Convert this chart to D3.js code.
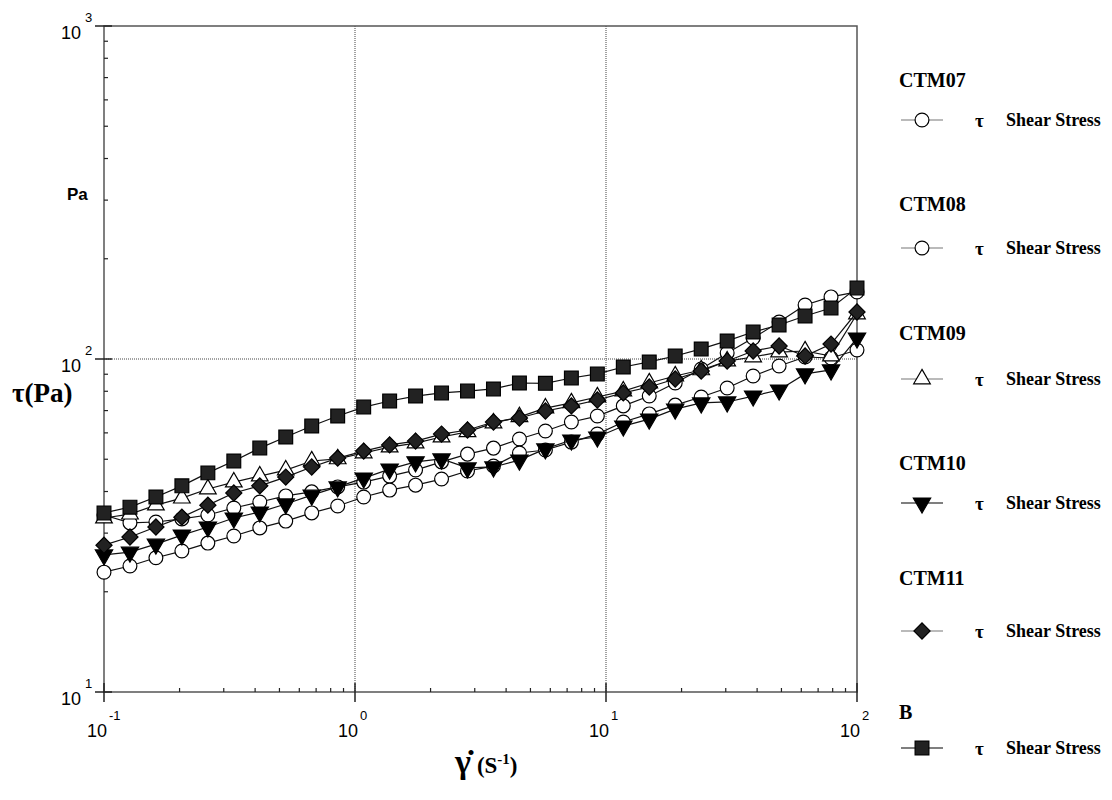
<!DOCTYPE html>
<html>
<head>
<meta charset="utf-8">
<script src="https://cdn.jsdelivr.net/npm/d3@7/dist/d3.min.js"></script>
<style>
  body { margin: 0; background: #fff; }
  svg { display: block; }
</style>
</head>
<body>
<div id="chart"></div>
<script>
// shear rate points (1/s), 30 per curve, log spaced
var shearRate = [0.100, 0.1269, 0.1610, 0.2043, 0.2593, 0.3290, 0.4175, 0.5298, 0.6723, 0.8532,
                 1.083, 1.374, 1.743, 2.212, 2.807, 3.562, 4.520, 5.736, 7.279, 9.237,
                 11.72, 14.87, 18.87, 23.95, 30.39, 38.57, 48.94, 62.11, 78.80, 100];

// shear stress (Pa) per sample
var ctm07 = [34.0, 32.2, 32.4, 33.1, 34.0, 35.7, 37.2, 38.8, 39.9, 41.3,
             42.7, 44.5, 46.4, 49.1, 51.8, 54.0, 57.5, 60.8, 64.7, 67.4,
             72.3, 77.4, 84.7, 93.3, 104.2, 115.6, 129.1, 145.3, 153.6, 159.0];
var ctm08 = [22.9, 23.9, 25.3, 26.5, 28.0, 29.4, 31.1, 32.6, 34.5, 36.2,
             38.5, 40.4, 41.8, 43.6, 46.1, 47.7, 52.2, 53.3, 56.3, 59.5,
             64.7, 68.4, 72.7, 76.9, 81.8, 88.9, 95.3, 101.4, 100.7, 106.4];
var ctm09 = [33.3, 34.2, 36.4, 38.2, 40.7, 42.7, 44.5, 46.4, 49.4, 50.1,
             52.2, 54.4, 55.9, 58.3, 60.4, 64.2, 67.0, 71.2, 73.8, 76.9,
             80.1, 84.7, 88.9, 92.7, 98.6, 101.4, 104.9, 105.7, 102.1, 136.5];
var ctm10 = [25.8, 26.3, 27.8, 29.6, 31.3, 33.3, 34.7, 36.7, 39.0, 41.3,
             43.9, 46.7, 49.1, 50.1, 47.1, 47.4, 49.7, 53.7, 57.1, 58.3,
             62.9, 66.0, 70.7, 73.8, 74.3, 77.4, 80.7, 90.2, 92.7, 115.6];
var ctm11 = [27.6, 29.2, 31.3, 33.5, 36.4, 39.6, 41.6, 44.2, 47.4, 50.4,
             52.9, 55.2, 56.7, 59.5, 61.2, 64.7, 66.5, 69.8, 72.3, 75.3,
             79.1, 82.4, 87.1, 92.0, 98.6, 105.7, 109.4, 102.1, 110.9, 138.4];
var sampleB = [34.5, 35.9, 38.5, 41.6, 45.5, 49.4, 54.0, 58.3, 62.9, 67.4,
               71.7, 74.8, 77.4, 79.1, 80.1, 81.3, 84.7, 84.5, 87.7, 90.2,
               94.6, 98.0, 102.1, 107.2, 113.3, 120.5, 126.5, 134.6, 142.3, 163.5];

var seriesNames = ["CTM07", "CTM08", "CTM09", "CTM10", "CTM11", "B"];
var seriesValues = [ctm07, ctm08, ctm09, ctm10, ctm11, sampleB];
var xTickExps = [-1, 0, 1, 2];
var yTickExps = [1, 2, 3];

var width = 1112,
    height = 800,
    margin = { top: 26, left: 104, right: 255, bottom: 108 };

// marker look for each series
var markers = [
    { type: d3.symbolCircle, size: 150, fill: "#fff", rot: 0 },
    { type: d3.symbolCircle, size: 150, fill: "#fff", rot: 0 },
    { type: d3.symbolTriangle, size: 120, fill: "#fff", rot: 0 },
    { type: d3.symbolTriangle, size: 130, fill: "#000", rot: 180 },
    { type: d3.symbolSquare, size: 130, fill: "#222", rot: 45 },
    { type: d3.symbolSquare, size: 190, fill: "#222", rot: 0 }
];

// legend rows (title baseline, symbol row)
var legendRows = [[87, 120], [211, 248], [340, 379], [470, 503], [585, 631], [719, 748]];

var svg = d3.select("#chart").append("svg")
    .attr("width", width)
    .attr("height", height);

var x = d3.scaleLog().domain([0.1, 100]).range([margin.left, width - margin.right]),
    y = d3.scaleLog().domain([10, 1000]).range([height - margin.bottom, margin.top]);

var x0 = x.range()[0], x1 = x.range()[1],
    y0 = y.range()[0], y1 = y.range()[1];

// dotted grid at the inner decades
svg.append("g").selectAll("line.gx")
    .data([1, 10]).enter().append("line")
    .attr("x1", function (d) { return x(d); })
    .attr("x2", function (d) { return x(d); })
    .attr("y1", y1).attr("y2", y0)
    .attr("stroke", "#444").attr("stroke-width", 1)
    .attr("stroke-dasharray", "1,1");
svg.append("line")
    .attr("x1", x0).attr("x2", x1)
    .attr("y1", y(100)).attr("y2", y(100))
    .attr("stroke", "#444").attr("stroke-width", 1)
    .attr("stroke-dasharray", "1,1");

// frame
svg.append("rect")
    .attr("x", x0).attr("y", y1)
    .attr("width", x1 - x0).attr("height", y0 - y1)
    .attr("fill", "none").attr("stroke", "#555").attr("stroke-width", 1.5);

// minor ticks, pointing inside
var xMinor = x.ticks().filter(function (d) { return xTickExps.map(function (e) { return Math.pow(10, e); }).indexOf(d) < 0; });
svg.append("g").selectAll("line")
    .data(xMinor).enter().append("line")
    .attr("x1", function (d) { return x(d); }).attr("x2", function (d) { return x(d); })
    .attr("y1", y0).attr("y2", y0 - 4)
    .attr("stroke", "#222").attr("stroke-width", 1.2);

var yMinor = y.ticks().filter(function (d) { return yTickExps.map(function (e) { return Math.pow(10, e); }).indexOf(d) < 0; });
svg.append("g").selectAll("line")
    .data(yMinor).enter().append("line")
    .attr("x1", x0).attr("x2", x0 + 4)
    .attr("y1", function (d) { return y(d); }).attr("y2", function (d) { return y(d); })
    .attr("stroke", "#222").attr("stroke-width", 1.2);

// major ticks cross the axis
svg.append("g").selectAll("line")
    .data(xTickExps).enter().append("line")
    .attr("x1", function (e) { return x(Math.pow(10, e)); }).attr("x2", function (e) { return x(Math.pow(10, e)); })
    .attr("y1", y0 - 9).attr("y2", y0 + 10)
    .attr("stroke", "#222").attr("stroke-width", 1.5);
svg.append("g").selectAll("line")
    .data(yTickExps).enter().append("line")
    .attr("x1", x0 - 9).attr("x2", x0 + 8)
    .attr("y1", function (e) { return y(Math.pow(10, e)); }).attr("y2", function (e) { return y(Math.pow(10, e)); })
    .attr("stroke", "#222").attr("stroke-width", 1.5);

// tick labels as 10 with exponent
var sans = "'Liberation Sans', Arial, sans-serif",
    serif = "'Liberation Serif', 'Times New Roman', serif";

var xl = svg.append("g").selectAll("g")
    .data(xTickExps).enter().append("g")
    .attr("transform", function (e) { return "translate(" + x(Math.pow(10, e)) + "," + (y0 + 45) + ")"; });
xl.append("text")
    .attr("x", 3).attr("text-anchor", "end")
    .attr("font-family", sans).attr("font-size", 18)
    .text("10");
xl.append("text")
    .attr("x", 5).attr("y", -17)
    .attr("font-family", sans).attr("font-size", 13)
    .text(function (e) { return e; });

var yl = svg.append("g").selectAll("g")
    .data(yTickExps).enter().append("g")
    .attr("transform", function (e) { return "translate(" + (x0 - 23) + "," + (y(Math.pow(10, e)) + 13) + ")"; });
yl.append("text")
    .attr("text-anchor", "end")
    .attr("font-family", sans).attr("font-size", 18)
    .text("10");
yl.append("text")
    .attr("x", 4).attr("y", -17)
    .attr("font-family", sans).attr("font-size", 13)
    .text(function (e) { return e; });

svg.append("text")
    .attr("x", 67).attr("y", 200)
    .attr("font-family", sans).attr("font-size", 17).attr("font-weight", "bold")
    .text("Pa");

// axis titles
svg.append("text")
    .attr("x", 12).attr("y", 402)
    .attr("font-family", serif).attr("font-size", 27).attr("font-weight", "bold")
    .text("τ(Pa)");

var xt = svg.append("text")
    .attr("x", 455).attr("y", 773)
    .attr("font-family", serif).attr("font-weight", "bold");
xt.append("tspan").attr("font-size", 34).text("γ̇");
xt.append("tspan").attr("font-size", 23).attr("dx", 6).text("(S");
xt.append("tspan").attr("font-size", 15).attr("dy", -9).text("-1");
xt.append("tspan").attr("font-size", 23).attr("dy", 9).text(")");

// curves
var line = d3.line()
    .x(function (d, i) { return x(shearRate[i]); })
    .y(function (d) { return y(d); });

var symbolPath = function (m) { return d3.symbol().type(m.type).size(m.size)(); };

seriesValues.forEach(function (vals, s) {
    var g = svg.append("g");
    g.append("path")
        .attr("d", line(vals))
        .attr("fill", "none").attr("stroke", "#111").attr("stroke-width", 1.2);
    g.selectAll("path.pt")
        .data(vals).enter().append("path")
        .attr("class", "pt")
        .attr("d", symbolPath(markers[s]))
        .attr("transform", function (d, i) {
            return "translate(" + x(shearRate[i]) + "," + y(d) + ") rotate(" + markers[s].rot + ")";
        })
        .attr("fill", markers[s].fill)
        .attr("stroke", "#000").attr("stroke-width", 1.2);
});

// legend
var leg = svg.append("g").selectAll("g")
    .data(seriesNames).enter().append("g");
leg.append("text")
    .attr("x", 899).attr("y", function (d, i) { return legendRows[i][0]; })
    .attr("font-family", serif).attr("font-size", 20).attr("font-weight", "bold")
    .text(function (d) { return d; });
leg.append("line")
    .attr("x1", 901).attr("x2", 943)
    .attr("y1", function (d, i) { return legendRows[i][1]; })
    .attr("y2", function (d, i) { return legendRows[i][1]; })
    .attr("stroke", function (d, i) { return i === 3 || i === 5 ? "#000" : "#777"; })
    .attr("stroke-width", 1.2);
leg.append("path")
    .attr("d", function (d, i) { return symbolPath(markers[i]); })
    .attr("transform", function (d, i) { return "translate(922," + legendRows[i][1] + ") rotate(" + markers[i].rot + ")"; })
    .attr("fill", function (d, i) { return markers[i].fill; })
    .attr("stroke", "#000").attr("stroke-width", 1.2);
leg.append("text")
    .attr("x", 975).attr("y", function (d, i) { return legendRows[i][1] + 7; })
    .attr("font-family", serif).attr("font-size", 19).attr("font-weight", "bold")
    .text("τ");
leg.append("text")
    .attr("x", 1006).attr("y", function (d, i) { return legendRows[i][1] + 6; })
    .attr("font-family", serif).attr("font-size", 18).attr("font-weight", "bold")
    .text("Shear Stress");
</script>
</body>
</html>
